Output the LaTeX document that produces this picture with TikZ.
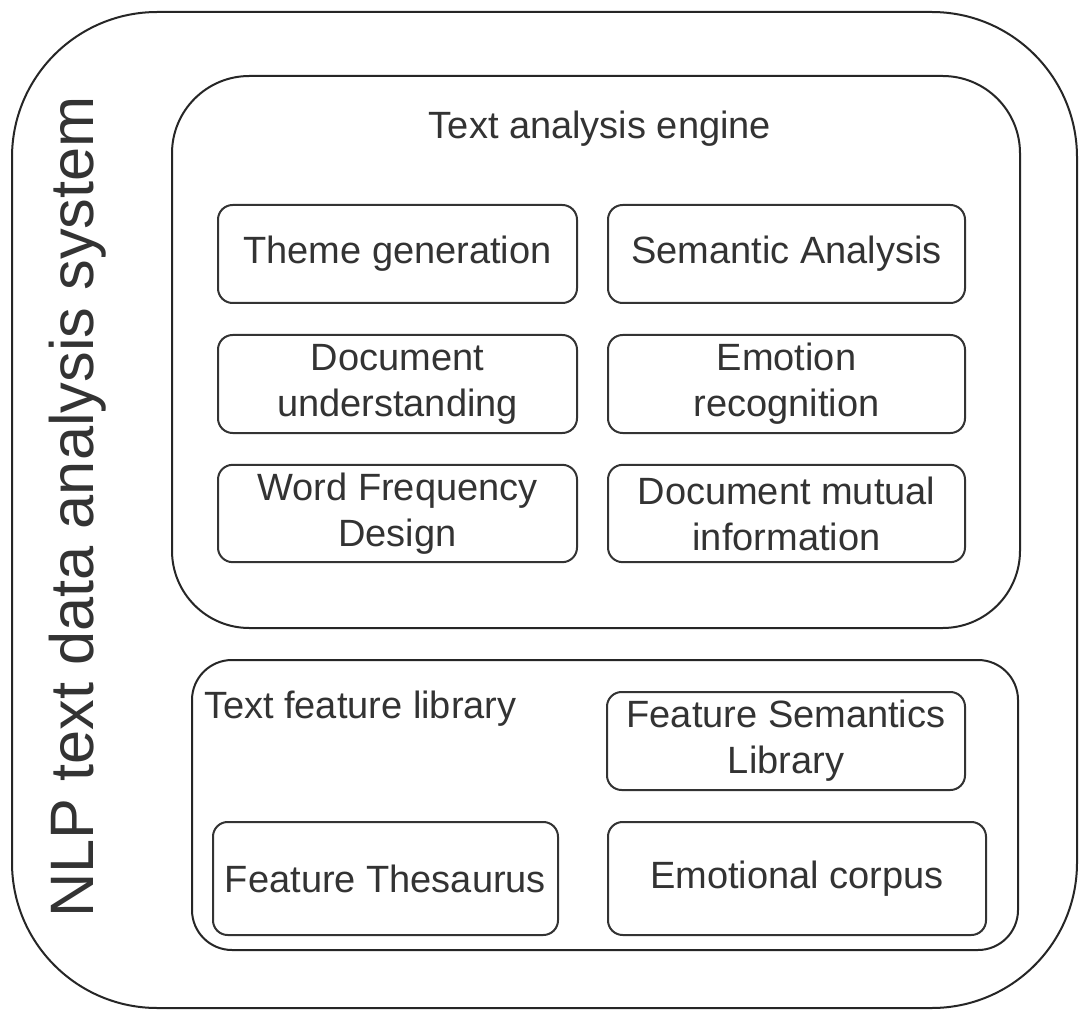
\documentclass[tikz,border=0pt]{standalone}
\usepackage{fontspec}
\setmainfont{Liberation Sans}
\begin{document}
\begin{tikzpicture}[x=0.75pt,y=-0.75pt,
  line width=1.5pt,
  every node/.style={text=black!80},
  container/.style={draw=black!85, inner sep=0pt, outer sep=0pt},
  itembox/.style={draw=black!80, rounded corners=11pt, inner sep=0pt, outer sep=0pt,
    align=center, font=\fontsize{28.5}{34.5}\selectfont},
  lbl/.style={inner sep=0pt, font=\fontsize{28.5}{34.5}\selectfont}
]
\useasboundingbox (0,0) rectangle (1081,1012);
\fill[white] (0,0) rectangle (1081,1012);

% containers
\node[container, rounded corners=109pt, minimum width=798.75pt, minimum height=747pt] (outer) at (544.5,510) {};
\node[container, rounded corners=58pt, minimum width=636pt, minimum height=414pt] (engine) at (596,352) {};
\node[container, rounded corners=30pt, minimum width=619.5pt, minimum height=217.5pt] (library) at (605,805) {};

% titles
\node[rotate=90, anchor=base, inner sep=0pt, font=\fontsize{46}{50}\selectfont] (systitle) at (93,507) {NLP text data analysis system};
\node[lbl, anchor=base] (enginetitle) at (600,139) {Text analysis engine};
\node[lbl, anchor=base west] (librarytitle) at (203,718) {Text feature library};

% engine items
\node[itembox, minimum width=269.25pt, minimum height=73.5pt] (theme) at (397.5,254) {Theme generation};
\node[itembox, minimum width=267.75pt, minimum height=73.5pt] (semantic) at (786.5,254) {Semantic Analysis};
\node[itembox, minimum width=269.25pt, minimum height=73.5pt] (docund) at (397.5,384) {Document\\understanding};
\node[itembox, minimum width=267.75pt, minimum height=73.5pt] (emotion) at (786.5,384) {Emotion\\recognition};
\node[itembox, minimum width=269.25pt, minimum height=73pt] (wordfreq) at (397.5,513.5) {Word Frequency\\Design};
\node[itembox, minimum width=267.75pt, minimum height=73pt] (docmutual) at (786.5,513.5) {Document mutual\\information};

% library items
\node[itembox, minimum width=268.5pt, minimum height=73.5pt] (featsem) at (786,741) {Feature Semantics\\Library};
\node[itembox, minimum width=258.75pt, minimum height=84.75pt] (thesaurus) at (385.5,878.5) {Feature Thesaurus};
\node[itembox, minimum width=283.5pt, minimum height=84.75pt] (corpus) at (797,878.5) {Emotional corpus};
\end{tikzpicture}
\end{document}
